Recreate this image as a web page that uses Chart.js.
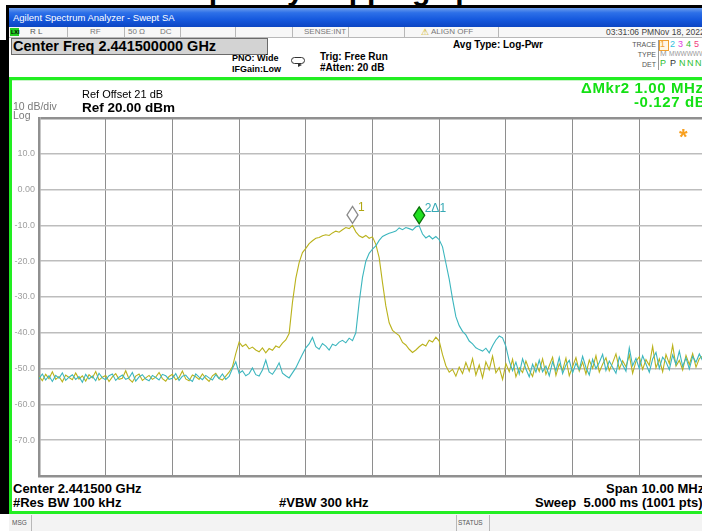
<!DOCTYPE html>
<html>
<head>
<meta charset="utf-8">
<title>Swept SA</title>
<script src="https://cdn.jsdelivr.net/npm/chart.js@4.4.1/dist/chart.umd.min.js"></script>
<style>
html, body { margin: 0; padding: 0; }
body { width: 702px; height: 531px; overflow: hidden; position: relative; background: #fff;
       font-family: "Liberation Sans", Arial, sans-serif; }
.box { position: absolute; }
.sep { position: absolute; width: 1px; background: #b8b8b8; }
.t { position: absolute; white-space: nowrap; z-index: 3; }
#plotWrap { position: absolute; left: 0; top: 80px; width: 740px; height: 400px; z-index: 2; }
</style>
</head>
<body>
<!-- instrument frame -->
<div class="box" style="left:6px;top:5px;width:696px;height:3px;background:#000"></div>
<div class="box" style="left:6px;top:5px;width:3px;height:40px;background:#000"></div>
<div class="box" style="left:0;top:40px;width:9px;height:474px;background:#000"></div>
<div class="box" style="left:9px;top:8px;width:693px;height:19px;background:linear-gradient(#6e9eec 0%,#2d70e8 25%,#1659de 60%,#0c45c2 100%)"></div>
<!-- status strip -->
<div class="box" style="left:9px;top:27px;width:693px;height:10px;background:#f7f7f7;border-bottom:1px solid #b8b8b8"></div>
<div class="sep" style="left:67px;top:27px;height:10px"></div>
<div class="sep" style="left:124px;top:27px;height:10px"></div>
<div class="sep" style="left:180px;top:27px;height:10px"></div>
<div class="sep" style="left:235px;top:27px;height:10px"></div>
<div class="sep" style="left:292px;top:27px;height:10px"></div>
<div class="sep" style="left:348px;top:27px;height:10px"></div>
<div class="sep" style="left:404px;top:27px;height:10px"></div>
<div class="sep" style="left:498px;top:27px;height:10px"></div>
<div class="box" style="left:10px;top:28px;width:9px;height:8px;background:#22cc22"></div>
<!-- centre frequency field -->
<div class="box" style="left:11px;top:38px;width:255px;height:15px;background:#d3d3d3;border:1px solid #6a6a6a"></div>
<!-- free-run loop icon -->
<div class="box" style="left:291px;top:57px;width:12px;height:5px;border:1.5px solid #333;border-radius:4px"></div>
<div class="box" style="left:298px;top:63px;width:0;height:0;border-left:4px solid #333;border-top:2.5px solid transparent;border-bottom:2.5px solid transparent"></div>
<!-- trace table separator and trace-1 box -->
<div class="sep" style="left:658px;top:40px;height:30px;background:#999"></div>
<div class="box" style="left:659px;top:40px;width:8px;height:9px;border:1px solid #f0a030;background:#fff6e6"></div>
<!-- green panel edges -->
<div class="box" style="left:9px;top:77px;width:693px;height:3px;background:#22ee22"></div>
<div class="box" style="left:9px;top:80px;width:693px;height:1px;background:#c6f6c6"></div>
<div class="box" style="left:9px;top:77px;width:3px;height:437px;background:#22ee22"></div>
<div class="box" style="left:9px;top:511px;width:693px;height:3px;background:#22ee22"></div>
<!-- message strip -->
<div class="box" style="left:9px;top:514px;width:693px;height:17px;background:#f3f3f3"></div>
<div class="sep" style="left:31px;top:515px;height:16px"></div>
<div class="sep" style="left:456px;top:515px;height:16px"></div>
<div class="sep" style="left:489px;top:515px;height:16px"></div>

<div id="ui"></div>
<div id="plotWrap"><canvas id="sa" width="740" height="400"></canvas></div>

<script>
// Sweep settings
const centerFreqMHz = 2441.5;
const spanMHz = 10;
const sweepStepMHz = 0.05;          // one stored point per 5 sweep bins
const refLevelDbm = 20;
const dbPerDiv = 10;

// Trace 1 (yellow), dBm
const trace1Dbm = [
  -52.1, -53.4, -51.6, -52.8, -50.9, -53.0, -52.2, -53.7, -51.8, -52.5,
  -53.1, -51.2, -52.9, -52.0, -53.5, -51.7, -52.6, -50.8, -53.2, -52.4,
  -51.9, -53.6, -52.3, -51.4, -53.0, -52.7, -50.6, -52.9, -53.8, -52.1,
  -51.5, -53.3, -52.6, -51.9, -53.0, -52.4, -51.1, -52.8, -53.5, -52.2,
  -51.6, -53.1, -52.5, -50.7, -52.9, -53.4, -51.8, -52.3, -53.0, -51.5,
  -52.7, -53.6, -52.0, -51.3, -52.8, -53.2, -52.1, -51.0, -49.5, -45.8,
  -42.6, -43.8, -43.2, -44.5, -44.0, -44.8, -45.3, -44.2, -45.6, -44.4,
  -44.9, -43.7, -44.1, -42.9, -42.0, -40.2, -31.5, -24.8, -20.4, -17.6,
  -16.4, -15.1, -14.3, -13.6, -13.4, -12.9, -12.6, -12.8, -12.1, -11.6,
  -11.9, -11.2, -10.6, -10.9, -10.0, -11.8, -12.9, -13.4, -12.8, -13.6,
  -13.2, -15.3, -19.0, -26.0, -32.5, -37.2, -39.3, -40.1, -40.8, -42.7,
  -43.4, -44.6, -45.5, -44.8, -43.9, -43.2, -43.7, -42.1, -42.6, -41.2,
  -42.3, -46.1, -49.2, -51.0, -50.2, -52.1, -49.6, -51.4, -48.3, -50.7,
  -47.2, -51.8, -49.0, -52.6, -48.1, -50.3, -46.5, -51.2, -49.7, -53.0,
  -48.6, -50.9, -47.4, -52.3, -49.8, -51.1, -47.9, -50.4, -52.2, -48.5,
  -50.8, -47.3, -51.6, -49.2, -46.8, -51.9, -48.7, -50.5, -47.1, -52.0,
  -49.4, -46.9, -50.7, -48.2, -51.5, -47.6, -49.9, -46.4, -51.0, -48.8,
  -47.0, -50.6, -48.4, -45.9, -50.1, -47.8, -49.5, -46.2, -51.3, -48.0,
  -46.7, -50.2, -47.5, -49.1, -43.8, -49.8, -47.3, -50.9, -46.1, -48.6,
  -43.5, -49.3, -47.7, -50.4, -46.3, -48.9, -45.8, -49.6, -47.2, -46.5,
  -48.3
];

// Trace 2 (cyan), dBm
const trace2Dbm = [
  -52.8, -51.5, -53.2, -52.0, -53.6, -51.9, -52.7, -51.2, -53.3, -52.4,
  -51.7, -53.0, -52.2, -53.8, -51.6, -52.9, -52.1, -53.4, -51.3, -52.6,
  -53.1, -52.0, -51.5, -53.3, -52.4, -51.8, -53.0, -52.6, -51.1, -53.5,
  -52.3, -51.7, -52.9, -53.4, -51.9, -52.5, -53.2, -51.6, -52.0, -53.0,
  -52.7, -51.4, -53.3, -52.1, -51.8, -52.9, -53.6, -51.5, -52.4, -53.1,
  -51.9, -52.6, -53.2, -51.7, -52.8, -51.5, -53.0, -52.2, -50.0, -48.1,
  -51.3, -50.6, -52.0, -51.4, -49.8, -51.7, -52.1, -50.4, -47.6, -50.9,
  -51.6, -50.2, -48.4, -51.3, -52.0, -52.6, -51.2, -49.8, -47.9, -46.0,
  -44.2, -43.1, -41.3, -43.9, -44.6, -43.0, -43.7, -44.8, -43.2, -43.6,
  -42.6, -42.1, -42.8, -41.5, -42.2, -40.0, -31.5, -24.5, -20.0, -17.8,
  -16.6, -15.7, -14.2, -13.1, -12.6, -12.2, -11.9, -11.6, -10.7, -11.2,
  -10.6, -10.9, -11.3, -10.4, -10.127, -12.4, -13.5, -12.9, -13.8, -13.1,
  -14.0, -16.0, -20.5, -25.0, -30.5, -35.5, -38.0, -39.6, -40.6, -42.3,
  -43.1, -44.2, -44.7, -45.1, -44.3, -45.6, -43.6, -42.0, -40.9, -41.4,
  -43.8, -47.9, -50.6, -48.2, -51.5, -47.3, -50.1, -52.3, -48.8, -51.0,
  -47.6, -50.9, -49.3, -52.0, -48.1, -50.6, -46.9, -51.4, -49.0, -47.7,
  -51.2, -48.5, -50.3, -46.6, -49.7, -51.8, -47.4, -50.0, -48.3, -46.0,
  -50.5, -47.9, -49.6, -51.3, -46.8, -48.9, -50.7, -44.2, -49.2, -47.1,
  -50.0, -46.4, -48.7, -51.0, -47.3, -45.5, -49.9, -46.8, -48.1, -50.3,
  -46.2, -48.8, -45.1, -49.4, -47.0, -50.1, -46.6, -48.2, -45.9, -47.8,
  -46.9
];

// Y-axis labels (dBm grid values and their printed form)
const yTickValues = [10, 0, -10, -20, -30, -40, -50, -60, -70];
const yTickLabels = ['10.0', '0.00', '-10.0', '-20.0', '-30.0', '-40.0', '-50.0', '-60.0', '-70.0'];

// Markers: stored point index and the trace each one sits on
const markerIndex = [94, 114];
const markerTrace = [0, 1];
const markerLabels = ['1', '2\u03941'];

const traces = [trace1Dbm, trace2Dbm];
const freqOffset = i => -spanMHz / 2 + i * sweepStepMHz;   // MHz from centre
const toPoints = arr => arr.map((v, i) => ({ x: freqOffset(i), y: v }));

// ---------- panel text ----------
const ui = document.getElementById('ui');
function put(text, x, base, size, opt) {
  opt = opt || {};
  const el = document.createElement('div');
  el.className = 't';
  el.textContent = text;
  el.style.fontSize = size + 'px';
  el.style.lineHeight = size + 'px';
  el.style.top = (base - 0.8465 * size) + 'px';
  if (opt.align === 'right') el.style.right = (702 - x) + 'px';
  else el.style.left = x + 'px';
  el.style.color = opt.color || '#000';
  if (opt.bold) el.style.fontWeight = 'bold';
  if (opt.ls) el.style.letterSpacing = opt.ls + 'px';
  ui.appendChild(el);
  return el;
}

put('Frequency hopping spectrum', 152, 0, 30, { bold: true });
put('Agilent Spectrum Analyzer - Swept SA', 13, 21, 9.5, { color: '#fff' });
put('LXI', 11, 35, 5.5, { color: '#000', bold: true });
put('R L', 30, 35, 8, { color: '#555' });
put('RF', 90, 35, 8, { color: '#777' });
put('50 \u03a9', 128, 35, 8, { color: '#777' });
put('DC', 160, 35, 8, { color: '#777' });
put('SENSE:INT', 304, 35, 8, { color: '#777' });
put('\u26a0', 421, 35.5, 9, { color: '#c8a800' });
put('ALIGN OFF', 431, 35, 8, { color: '#777' });
put('03:31:06 PMNov 18, 2022', 606, 35, 8.5, { color: '#444' });

put('Center Freq ' + (centerFreqMHz / 1000).toFixed(9) + ' GHz', 13, 51, 14.5, { bold: true });
put('PNO: Wide', 232, 62, 9, { bold: true });
put('IFGain:Low', 232, 73, 9, { bold: true });
put('Trig: Free Run', 320, 60, 10, { bold: true });
put('#Atten: 20 dB', 320, 71, 10, { bold: true });
put('Avg Type: Log-Pwr', 453, 48, 10, { bold: true });

put('TRACE', 656, 47, 7, { align: 'right', color: '#555' });
put('TYPE', 656, 57, 7, { align: 'right', color: '#555' });
put('DET', 656, 67, 7, { align: 'right', color: '#555' });
put('1', 660, 48, 9, { color: '#f0a030' });
put('2', 670, 48, 9, { color: '#30c0e0' });
put('3', 678, 48, 9, { color: '#e040e0' });
put('4', 686, 48, 9, { color: '#30c030' });
put('5', 694, 48, 9, { color: '#f04080' });
put('6', 702, 48, 9, { color: '#8080f0' });
put('M', 660, 57, 8, { color: '#999' });
put('MWWWWW', 669, 57, 6.5, { color: '#999' });
put('P', 660, 67, 9, { color: '#30c030' });
put('P', 670, 67, 9, { color: '#333' });
put('N', 679, 67, 9, { color: '#30c030' });
put('N', 687, 67, 9, { color: '#30c030' });
put('N', 695, 67, 9, { color: '#30c030' });
put('N', 703, 67, 9, { color: '#30c030' });

put('Ref Offset 21 dB', 82, 98, 11);
put('Ref ' + refLevelDbm.toFixed(2) + ' dBm', 82, 112, 13.5, { bold: true });
put(dbPerDiv + ' dB/div', 13, 110, 10.5, { color: '#7a7a7a' });
put('Log', 13, 119, 10.5, { color: '#7a7a7a' });

// delta-marker readout from the two marker positions
const m1 = traces[markerTrace[0]][markerIndex[0]];
const m2 = traces[markerTrace[1]][markerIndex[1]];
const dF = freqOffset(markerIndex[1]) - freqOffset(markerIndex[0]);
put('\u0394Mkr2 ' + dF.toFixed(2) + ' MHz', 581, 93, 15, { bold: true, color: '#14e014', ls: 0.6 });
put((m2 - m1).toFixed(3) + ' dB', 634, 107, 15, { bold: true, color: '#14e014', ls: 0.6 });
put('*', 679, 145, 22, { bold: true, color: '#f8a020' });

put('Center ' + (centerFreqMHz / 1000).toFixed(6) + ' GHz', 13, 493, 13, { bold: true });
put('#Res BW 100 kHz', 13, 507, 13, { bold: true });
put('#VBW 300 kHz', 279, 507, 13, { bold: true });
put('Span ' + spanMHz.toFixed(2) + ' MHz', 606, 493, 13, { bold: true });
put('Sweep\u00a0\u00a05.000 ms (1001 pts)', 535, 507, 13, { bold: true });
put('MSG', 12, 526, 6.5, { color: '#555' });
put('STATUS', 458, 526, 6.5, { color: '#555' });

// ---------- marker diamonds ----------
const markerFill = ['#ffffff', '#22e022'];
const markerEdge = ['#8a8a8a', '#0b6e0b'];
const markerText = ['#b0a612', '#35a9b5'];
const markerPlugin = {
  id: 'markers',
  afterDatasetsDraw(chart) {
    const { ctx, scales: { x, y } } = chart;
    markerIndex.forEach((idx, k) => {
      const px = x.getPixelForValue(freqOffset(idx));
      const py = y.getPixelForValue(traces[markerTrace[k]][idx]);
      ctx.save();
      ctx.beginPath();
      ctx.moveTo(px, py - 19);
      ctx.lineTo(px + 5.5, py - 10.5);
      ctx.lineTo(px, py - 2);
      ctx.lineTo(px - 5.5, py - 10.5);
      ctx.closePath();
      ctx.fillStyle = markerFill[k];
      ctx.fill();
      ctx.lineWidth = 1.3;
      ctx.strokeStyle = markerEdge[k];
      ctx.stroke();
      ctx.font = '12px "Liberation Sans", Arial, sans-serif';
      ctx.fillStyle = markerText[k];
      ctx.fillText(markerLabels[k], px + 5.5, py - 14);
      ctx.restore();
    });
  }
};

// ---------- chart ----------
new Chart(document.getElementById('sa'), {
  type: 'line',
  data: {
    datasets: [
      { label: 'Trace 2', data: toPoints(trace2Dbm), borderColor: '#3cb6be', borderWidth: 1.1,
        pointRadius: 0, tension: 0 },
      { label: 'Trace 1', data: toPoints(trace1Dbm), borderColor: '#bab21c', borderWidth: 1.1,
        pointRadius: 0, tension: 0 }
    ]
  },
  options: {
    responsive: false,
    animation: false,
    devicePixelRatio: 1,
    layout: { padding: { left: 0, top: 38, right: 34, bottom: 4 } },
    plugins: { legend: { display: false }, tooltip: { enabled: false } },
    scales: {
      x: {
        type: 'linear', min: -spanMHz / 2, max: spanMHz / 2,
        ticks: { display: false, stepSize: 1 },
        grid: { color: '#8e8e8e', lineWidth: 1, drawTicks: false },
        border: { display: true, color: '#909090', width: 2.5 },
        afterFit: s => { s.height = 0; s.paddingLeft = 0; s.paddingRight = 0; }
      },
      y: {
        min: refLevelDbm - 10 * dbPerDiv, max: refLevelDbm,
        ticks: {
          stepSize: dbPerDiv, padding: 4, color: '#a0a0a0', autoSkip: false,
          font: { family: '"Liberation Sans", Arial, sans-serif', size: 9 },
          callback: v => { const k = yTickValues.indexOf(v); return k < 0 ? '' : yTickLabels[k]; }
        },
        grid: {
          drawTicks: false,
          color: c => (c.tick && c.tick.value === refLevelDbm) ? '#909090' : '#bdbdbd',
          lineWidth: c => (c.tick && c.tick.value === refLevelDbm) ? 2.5 : 1.6
        },
        border: { display: true, color: '#909090', width: 2.5 },
        afterFit: s => { s.width = 39; s.paddingTop = 0; s.paddingBottom = 0; }
      }
    }
  },
  plugins: [markerPlugin]
});
</script>
</body>
</html>
